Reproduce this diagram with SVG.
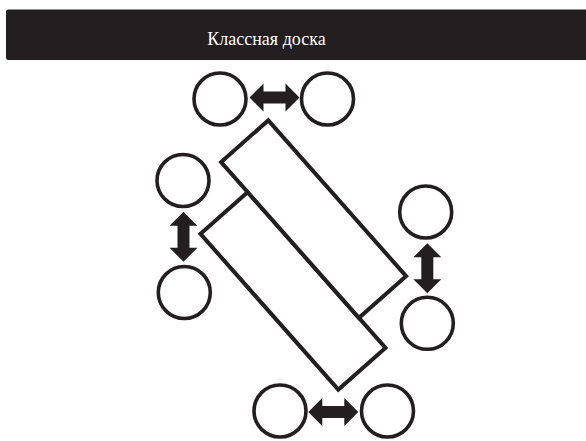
<svg xmlns="http://www.w3.org/2000/svg" width="586" height="441" viewBox="0 0 586 441">
  <style>
    .seat { fill: #ffffff; stroke: #231f20; stroke-width: 3.6; }
    .desk { fill: #ffffff; stroke: #231f20; stroke-width: 4; stroke-linejoin: miter; }
    .pair { fill: #231f20; }
    .title { font-family: "Liberation Serif", "DejaVu Serif", serif; font-size: 18px; fill: #ffffff; }
  </style>
  <defs>
    <!-- double-headed arrow, horizontal, centred on the origin -->
    <path id="dbl" d="M -25 0 L -11 -14 L -11 -6 L 11 -6 L 11 -14 L 25 0 L 11 14 L 11 6 L -11 6 L -11 14 Z"/>
  </defs>

  <!-- board header -->
  <g id="board">
    <rect x="6" y="9.5" width="590" height="50.5" rx="2.5" fill="#231f20"/>
    <text class="title" x="266.5" y="45" text-anchor="middle">Классная доска</text>
  </g>

  <!-- desks: the lower one shares its long edge with the upper one -->
  <g id="desk-lower">
    <rect class="desk" x="-104" y="-31.5" width="208" height="63" transform="translate(293 290.9) rotate(48.5)"/>
  </g>
  <g id="desk-upper">
    <rect class="desk" x="-104" y="-31.5" width="208" height="63" transform="translate(313.6 219.1) rotate(48.5)"/>
  </g>

  <!-- seats -->
  <g id="seat-top-left"><circle class="seat" cx="220" cy="99" r="26"/></g>
  <g id="seat-top-right"><circle class="seat" cx="327.5" cy="99" r="26"/></g>
  <g id="seat-left-upper"><circle class="seat" cx="183" cy="180.5" r="26"/></g>
  <g id="seat-left-lower"><circle class="seat" cx="184.3" cy="292.5" r="26"/></g>
  <g id="seat-right-upper"><circle class="seat" cx="425.7" cy="212" r="26"/></g>
  <g id="seat-right-lower"><circle class="seat" cx="427.3" cy="323.3" r="26"/></g>
  <g id="seat-bottom-left"><circle class="seat" cx="280" cy="411" r="26"/></g>
  <g id="seat-bottom-right"><circle class="seat" cx="387.5" cy="411" r="26"/></g>

  <!-- exchange arrows between seat pairs -->
  <g id="connectors" class="pair">
    <use href="#dbl" transform="translate(274.5 97.5)"/>
    <use href="#dbl" transform="translate(183.5 236.7) rotate(90)"/>
    <use href="#dbl" transform="translate(427.3 268.3) rotate(90)"/>
    <use href="#dbl" transform="translate(333.3 412)"/>
  </g>
</svg>
